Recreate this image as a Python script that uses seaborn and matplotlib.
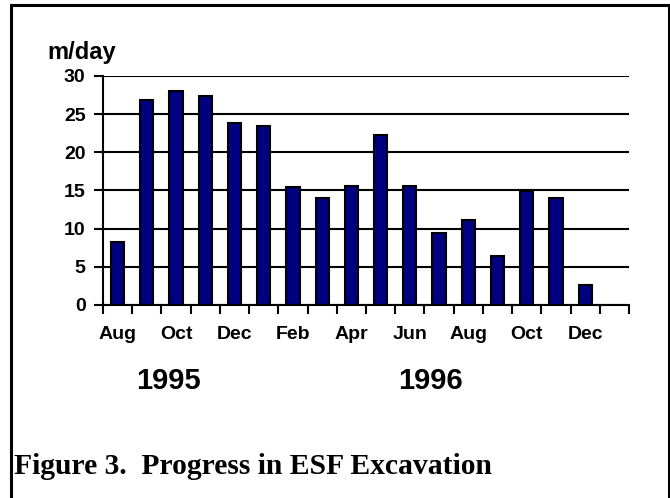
import numpy as np
import pandas as pd
import seaborn as sns
import matplotlib.pyplot as plt
from matplotlib.patches import Rectangle
from matplotlib.ticker import FixedLocator

# ESF excavation progress, monthly average (m/day), Aug 1995 - Jan 1997
months = ["1995-08", "1995-09", "1995-10", "1995-11", "1995-12",
          "1996-01", "1996-02", "1996-03", "1996-04", "1996-05",
          "1996-06", "1996-07", "1996-08", "1996-09", "1996-10",
          "1996-11", "1996-12", "1997-01"]
rate = [8.2, 26.9, 28.0, 27.4, 23.8, 23.5, 15.5, 14.0, 15.6, 22.3,
        15.6, 9.4, 11.1, 6.4, 14.9, 14.0, 2.6, np.nan]
tick_labels = ["Aug", "", "Oct", "", "Dec", "", "Feb", "", "Apr", "",
               "Jun", "", "Aug", "", "Oct", "", "Dec", ""]
years = ["1995", "1996"]
year_pos = [1.73, 10.7]

df = pd.DataFrame({"month": months, "rate": rate})

sns.set_style("white")
plt.rcParams["font.family"] = ["Liberation Sans", "DejaVu Sans"]
plt.rcParams.update({"text.color": "black", "axes.labelcolor": "black",
                     "xtick.color": "black", "ytick.color": "black"})

fig = plt.figure(figsize=(6.7, 4.98), dpi=100)
ax = fig.add_axes([0.1537, 0.3876, 0.7851, 0.4598])

sns.barplot(data=df, x="month", y="rate", order=months, ax=ax,
            color="#000080", saturation=1, width=0.45,
            edgecolor="black", linewidth=1.5, zorder=3)

#####################################################################
# Axes styling
#####################################################################
ax.set_ylim(0, 30)
ax.set_xlim(-0.5, len(months) - 0.5)
ax.set_yticks(range(0, 31, 5))
ax.set_xticks(range(len(months)))
ax.set_xticklabels(tick_labels)
ax.xaxis.set_minor_locator(FixedLocator(np.arange(-0.5, len(months), 1)))
ax.tick_params(axis="x", which="major", length=0, pad=15,
               labelsize=14, labelcolor="black")
ax.tick_params(axis="x", which="minor", length=6.5, width=1.5,
               color="black", direction="out", bottom=True)
ax.tick_params(axis="y", length=6.5, width=1.5, color="black",
               direction="out", left=True, pad=6, labelsize=14,
               labelcolor="black")
for lab in ax.get_xticklabels() + ax.get_yticklabels():
    lab.set_fontweight("bold")

ax.yaxis.grid(True, color="black", linewidth=1.5)
ax.set_axisbelow(True)
for side in ["top", "right"]:
    ax.spines[side].set_visible(False)
for side in ["left", "bottom"]:
    ax.spines[side].set_color("black")
    ax.spines[side].set_linewidth(1.5)
    ax.spines[side].set_zorder(4)
ax.set_xlabel("")
ax.set_ylabel("")

# Unit label above the y axis
fig.text(82 / 670, 1 - 53 / 498, "m/day", ha="center", va="center",
         fontsize=17, fontweight="bold", color="black")

# Year labels under the month labels
for yr, pos in zip(years, year_pos):
    ax.text(pos, -0.33, yr, transform=ax.get_xaxis_transform(),
            ha="center", va="center", fontsize=21, fontweight="bold",
            color="black")

# Caption
fig.text(14 / 670, 1 - 466 / 498, "Figure 3.  Progress in ESF Excavation",
         ha="left", va="center", fontsize=21.3, fontweight="bold",
         family="Liberation Serif", color="black")

# Outer frame
fig.patches.append(Rectangle((11 / 670, -0.02), 657.5 / 670, 1.02 - 5 / 498,
                             transform=fig.transFigure, fill=False,
                             edgecolor="black", linewidth=2.2))

fig.savefig("out.png", dpi=100)
plt.close()
